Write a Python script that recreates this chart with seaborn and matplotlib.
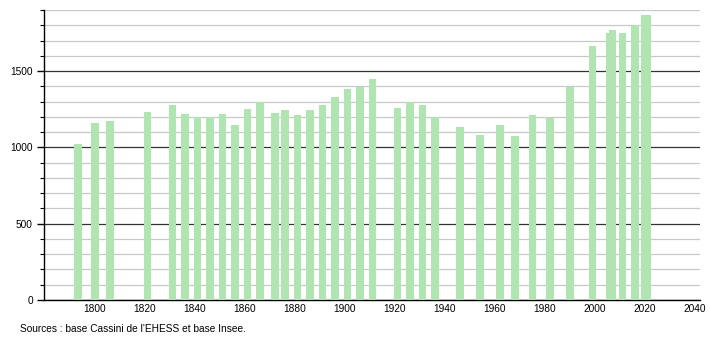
import matplotlib
matplotlib.use("Agg")
import matplotlib.pyplot as plt
import seaborn as sns
import pandas as pd
from matplotlib.ticker import MultipleLocator, FixedLocator

years = [1793, 1800, 1806, 1821, 1831, 1836, 1841, 1846, 1851, 1856,
         1861, 1866, 1872, 1876, 1881, 1886, 1891, 1896, 1901, 1906,
         1911, 1921, 1926, 1931, 1936, 1946, 1954, 1962, 1968, 1975,
         1982, 1990, 1999, 2006, 2007, 2011, 2016, 2020, 2021]
population = [1020, 1162, 1171, 1230, 1276, 1217, 1202, 1200, 1217, 1145,
              1250, 1298, 1224, 1243, 1213, 1243, 1276, 1329, 1382, 1393,
              1447, 1257, 1294, 1276, 1202, 1134, 1081, 1145, 1075, 1211,
              1191, 1397, 1665, 1748, 1770, 1750, 1803, 1864, 1870]
x_ticks = [1800, 1820, 1840, 1860, 1880, 1900, 1920, 1940, 1960, 1980, 2000, 2020, 2040]
y_ticks = [0, 500, 1000, 1500]
source_text = "Sources : base Cassini de l'EHESS et base Insee."

sns.set_style("white")
plt.rcParams['font.family'] = ['Liberation Sans', 'DejaVu Sans']
plt.rcParams['text.color'] = 'black'
plt.rcParams['xtick.color'] = 'black'
plt.rcParams['ytick.color'] = 'black'

df = pd.DataFrame({"year": years, "pop": population})

fig = plt.figure(figsize=(7.10, 3.40), dpi=100)
ax = fig.add_axes([44/710, 40/340, (700-44)/710, 290/340])

sns.barplot(data=df, x="year", y="pop", native_scale=True, width=3.2,
            color="#b0e4b0", saturation=1, edgecolor="none", linewidth=0,
            errorbar=None, ax=ax, zorder=3)

ax.set_xlim(1779.6, 2042)
ax.set_ylim(0, 1900)
ax.xaxis.set_major_locator(FixedLocator(x_ticks))
ax.set_xticklabels([str(t) for t in x_ticks])
ax.yaxis.set_major_locator(FixedLocator(y_ticks))
ax.set_yticklabels([str(t) for t in y_ticks])
ax.yaxis.set_minor_locator(MultipleLocator(100))

ax.set_axisbelow(True)
ax.grid(which="minor", axis="y", color="#c8c8c8", linewidth=0.9)
ax.grid(which="major", axis="y", color="#333333", linewidth=0.9)
ax.grid(which="both", axis="x", visible=False)

for s in ["top", "right"]:
    ax.spines[s].set_visible(False)
for s in ["left", "bottom"]:
    ax.spines[s].set_color("black")
    ax.spines[s].set_linewidth(1.0)

ax.tick_params(axis="y", which="major", length=5, width=1, colors="black",
               labelsize=7.3, pad=3, left=True)
ax.tick_params(axis="y", which="minor", length=3, width=0.8, color="black", left=True)
ax.tick_params(axis="x", which="both", length=0, labelsize=7.3, pad=3, labelcolor="black")
ax.set_xlabel("")
ax.set_ylabel("")

fig.text(20/710, 1 - 329/340, source_text, fontsize=7.3, va="center", ha="left", color="black")

fig.savefig("out.png", dpi=100)
